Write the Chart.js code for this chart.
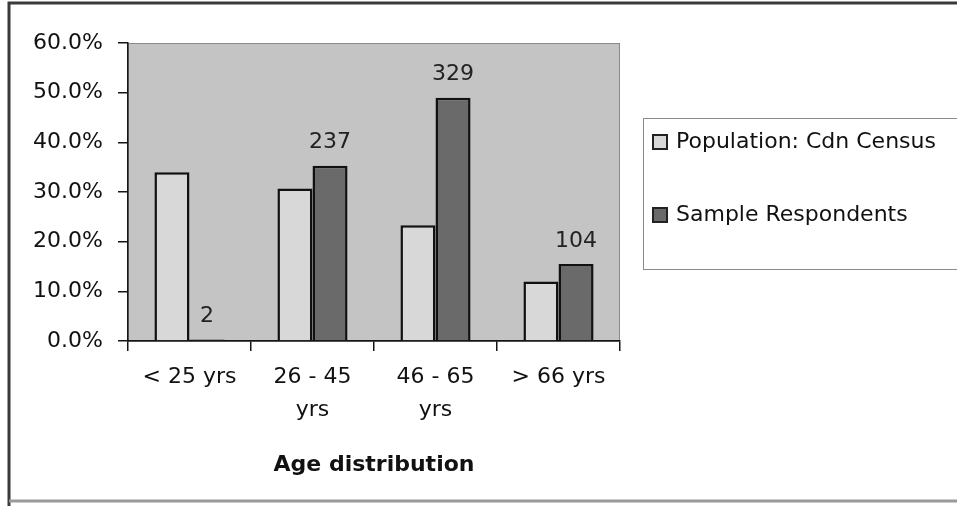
<!DOCTYPE html>
<html>
<head>
<meta charset="utf-8">
<script src="https://cdn.jsdelivr.net/npm/chart.js@4/dist/chart.umd.min.js"></script>
<style>
  html, body { margin: 0; padding: 0; background: #fff; }
  #wrap { position: relative; width: 957px; height: 506px; }
</style>
</head>
<body>
<div id="wrap"><canvas id="ageChart"></canvas></div>
<script>
// Data
const categories    = ['< 25 yrs', ['26 - 45', 'yrs'], ['46 - 65', 'yrs'], '> 66 yrs'];
const populationPct = [34.0, 30.7, 23.3, 12.0];
const samplePct     = [0.3, 35.3, 49.0, 15.5];
const sampleCounts  = [2, 237, 329, 104];
const seriesNames   = ['Population: Cdn Census', 'Sample Respondents'];
const yMin = 0, yMax = 60, yStep = 10;

Chart.defaults.font.family = "'DejaVu Sans', sans-serif";
Chart.defaults.font.size = 22;
Chart.defaults.color = '#111';

// frame round the whole picture + grey plot background
const backdrop = {
    id: 'backdrop',
    beforeDraw(chart) {
        const { ctx, chartArea: a } = chart;
        ctx.save();
        ctx.fillStyle = '#c4c4c4';
        ctx.fillRect(a.left, a.top, a.right - a.left, a.bottom - a.top);
        ctx.strokeStyle = '#8a8a8a';
        ctx.lineWidth = 1;
        ctx.strokeRect(a.left + 0.5, a.top + 0.5, a.right - a.left - 1, a.bottom - a.top);
        // outer frame (left + top dark, bottom lighter)
        ctx.lineWidth = 3;
        ctx.strokeStyle = '#3a3a3a';
        ctx.beginPath();
        ctx.moveTo(9, 506); ctx.lineTo(9, 3); ctx.lineTo(960, 3);
        ctx.stroke();
        ctx.strokeStyle = '#9a9a9a';
        ctx.beginPath();
        ctx.moveTo(9, 501); ctx.lineTo(960, 501);
        ctx.stroke();
        ctx.restore();
    }
};

// counts written above the sample bars
const countLabels = {
    id: 'countLabels',
    afterDatasetsDraw(chart) {
        const { ctx } = chart;
        const meta = chart.getDatasetMeta(1);
        ctx.save();
        ctx.font = "22px 'DejaVu Sans', sans-serif";
        ctx.fillStyle = '#222';
        ctx.textAlign = 'center';
        ctx.textBaseline = 'middle';
        meta.data.forEach((bar, i) => {
            ctx.fillText(String(sampleCounts[i]), bar.x, bar.y - 23);
        });
        ctx.restore();
    }
};

// boxed legend on the right, cut by the picture edge like the scan
const boxLegend = {
    id: 'boxLegend',
    afterDraw(chart) {
        const { ctx } = chart;
        ctx.save();
        ctx.fillStyle = '#fff';
        ctx.fillRect(643, 118, 330, 151);
        ctx.strokeStyle = '#8a8a8a';
        ctx.lineWidth = 1;
        ctx.strokeRect(643.5, 118.5, 330, 151);
        const rows = [142, 215];
        ctx.font = "22px 'DejaVu Sans', sans-serif";
        ctx.textBaseline = 'middle';
        ctx.textAlign = 'left';
        chart.data.datasets.forEach((ds, i) => {
            const y = rows[i];
            ctx.fillStyle = ds.backgroundColor;
            ctx.fillRect(653, y - 7, 14, 14);
            ctx.strokeStyle = '#222';
            ctx.lineWidth = 2;
            ctx.strokeRect(653, y - 7, 14, 14);
            ctx.fillStyle = '#111';
            ctx.fillText(ds.label, 676, y);
        });
        ctx.restore();
    }
};

const ctxAge = document.getElementById('ageChart').getContext('2d');
new Chart(ctxAge, {
    type: 'bar',
    data: {
        labels: categories,
        datasets: [
            {
                label: seriesNames[0],
                data: populationPct,
                backgroundColor: '#d8d8d8',
                borderColor: '#111',
                borderWidth: 2.5
            },
            {
                label: seriesNames[1],
                data: samplePct,
                backgroundColor: '#6a6a6a',
                borderColor: '#111',
                borderWidth: 2.5
            }
        ]
    },
    options: {
        responsive: true,
        maintainAspectRatio: false,
        animation: false,
        layout: { padding: { top: 43, right: 337, bottom: 0, left: 0 } },
        datasets: { bar: { categoryPercentage: 0.57, barPercentage: 1.0 } },
        plugins: {
            legend: { display: false },
            tooltip: { enabled: false }
        },
        scales: {
            x: {
                grid: {
                    offset: true,
                    drawOnChartArea: false,
                    drawTicks: true,
                    tickLength: 10,
                    color: '#151515',
                    lineWidth: 1.5
                },
                border: { display: true, color: '#151515', width: 1.5 },
                ticks: {
                    padding: 10,
                    maxRotation: 0,
                    autoSkip: false,
                    font: { size: 22, lineHeight: 1.5 }
                },
                title: {
                    display: true,
                    text: 'Age distribution',
                    font: { size: 22, weight: 'bold' },
                    padding: { top: 0, bottom: 28 }
                },
                afterFit: scale => { scale.height = 165; }
            },
            y: {
                min: yMin,
                max: yMax,
                grid: {
                    drawOnChartArea: false,
                    drawTicks: true,
                    tickLength: 10,
                    color: '#151515',
                    lineWidth: 1.5
                },
                border: { display: true, color: '#151515', width: 1.5 },
                ticks: {
                    stepSize: yStep,
                    padding: 15,
                    callback: val => val.toFixed(1) + '%'
                },
                afterFit: scale => { scale.width = 128; }
            }
        }
    },
    plugins: [backdrop, countLabels, boxLegend]
});
</script>
</body>
</html>
